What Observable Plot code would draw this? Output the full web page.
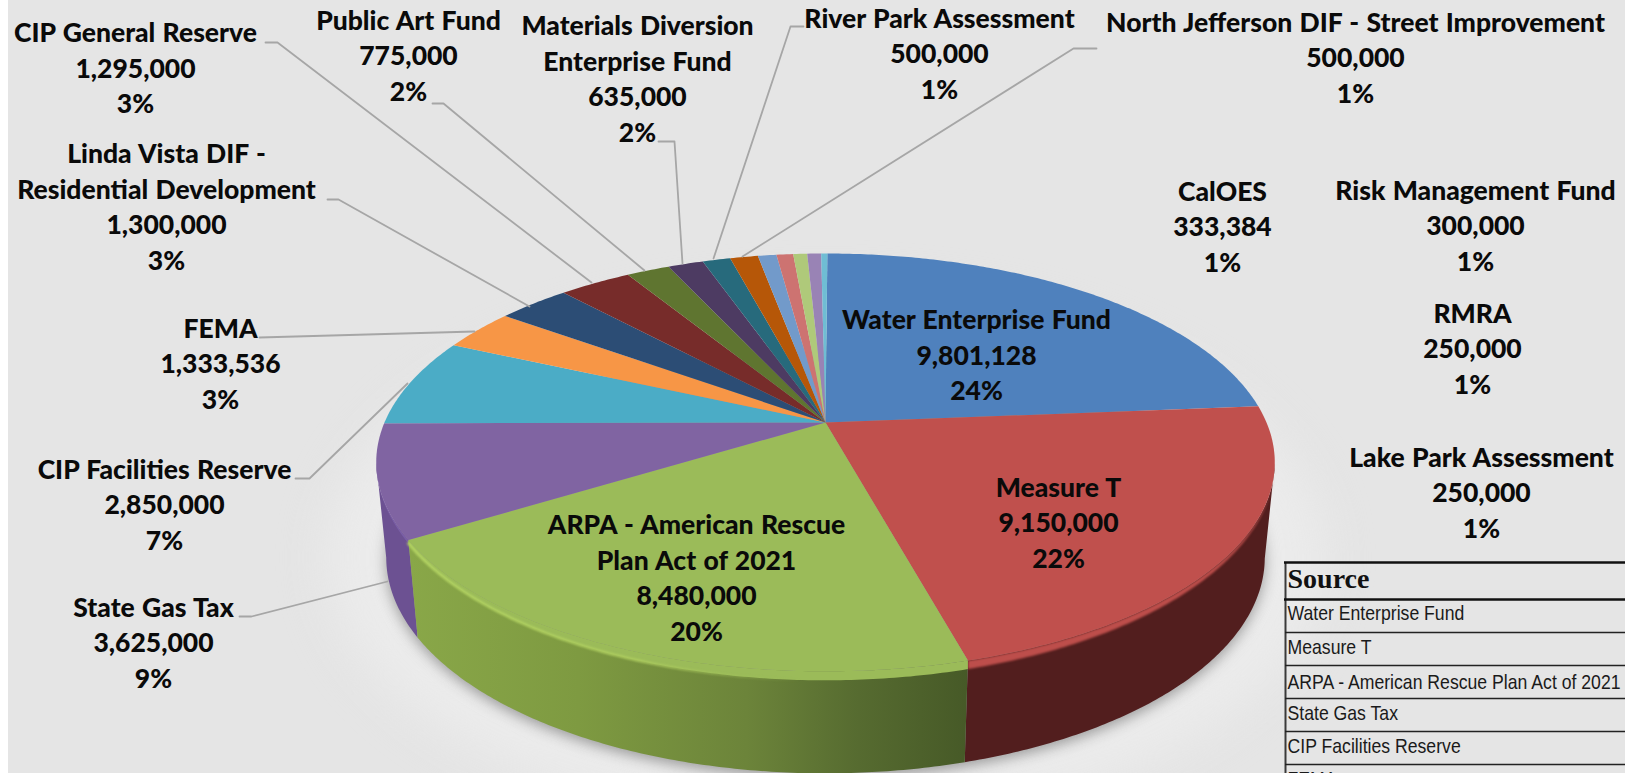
<!DOCTYPE html>
<html>
<head>
<meta charset="utf-8">
<script src="https://cdn.jsdelivr.net/npm/d3@7"></script>
<script src="https://cdn.jsdelivr.net/npm/@observablehq/plot@0.6"></script>
<style>
html,body{margin:0;padding:0;overflow:hidden;width:1625px;height:773px;background:linear-gradient(to right,#fff 8px,#e5e5e5 8px);}
svg{display:block}
.lbl text{word-spacing:1px}
</style>
</head>
<body>
<script>
// ---- data -------------------------------------------------------------
const sources = ["Water Enterprise Fund","Measure T","ARPA - American Rescue\nPlan Act of 2021","State Gas Tax","CIP Facilities Reserve","FEMA","Linda Vista DIF -\nResidential Development","CIP General Reserve","Public Art Fund","Materials Diversion\nEnterprise Fund","River Park Assessment","North Jefferson DIF - Street Improvement","CalOES","Risk Management Fund","RMRA","Lake Park Assessment","(unlabelled)"];
const amounts = [9801128,9150000,8480000,3625000,2850000,1333536,1300000,1295000,775000,635000,500000,500000,333384,300000,250000,250000,110000];
const percents = ["24%","22%","20%","9%","7%","3%","3%","3%","2%","2%","1%","1%","1%","1%","1%","1%",""];
const sliceColors = ["#4f81bd","#c0504d","#9bbb59","#8064a2","#4bacc6","#f79646","#2c4d75","#772c2a","#5f7530","#4d3b62","#276a7c","#b65708","#729aca","#cd7371","#afc97a","#9983b5","#6fbdd4"];
const tableHeader = "Source";
const tableRows = ["Water Enterprise Fund","Measure T","ARPA - American Rescue Plan Act of 2021","State Gas Tax","CIP Facilities Reserve","FEMA"];

// ---- layout (separate from data) -------------------------------------
const labelAt = [[976,353],[1058,520.5],[696,575.5],[153,640.5],[164,502.5],[220,361.5],[166,204.5],[135,66],[408,53.5],[637,76.5],[939,51.5],[1355,55.5],[1222,224.5],[1475,223.5],[1472,346.5],[1481,490.5],null];
const leaders = [
  [[239,616],[251,616],[387,581]],
  [[295,478],[309,478],[407,383]],
  [[259,337],[474,331]],
  [[327,199],[338,199],[529,306]],
  [[265,42],[277,42],[591,282]],
  [[432,103],[443,103],[644,270]],
  [[658,141],[674,141],[682,263]],
  [[803,26],[790,26],[713,258]],
  [[1096,48],[1073,48],[742,256]]
];
const W = 1625, H = 773;
const apex = {x:825, y:422}, k = 0.191, sx = 441, sz = 201.3, startAngle = 0.005;
const top3d = {cx:825, cy:462, a:449, b:209};
const bot3d = {cx:825, cy:557, a:439, b:216};
const bevel = 9;
const textWidthFactor = 0.84;
const tableTextY = [613,647,682,713,746,779];

// ---- geometry from the values -----------------------------------------
const total = d3.sum(amounts);
const project = th => {
  const X = Math.sin(th), Z = Math.cos(th), d = 1 + k * Z;
  return [apex.x + sx * X / d, apex.y - sz * Z / d];
};
const toBottom = ([x, y]) => {
  const c = (x - top3d.cx) / top3d.a, s = (y - top3d.cy) / top3d.b;
  return [bot3d.cx + bot3d.a * c, bot3d.cy + bot3d.b * s];
};
let acc = startAngle;
const slices = amounts.map((v, i) => {
  const a0 = acc, a1 = acc + v / total * 2 * Math.PI;
  acc = a1;
  const n = Math.max(2, Math.ceil((a1 - a0) / 0.01));
  const rim = d3.range(n + 1).map(j => project(a0 + (a1 - a0) * j / n));
  return {i, name: sources[i], color: sliceColors[i], rim};
});
const faces = slices.flatMap(s => [[apex.x, apex.y], ...s.rim].map(p => ({x:p[0], y:p[1], z:s.i, c:s.color})));
const frontRim = s => s.rim.filter(p => p[1] >= top3d.cy);
const sidePoly = i => {
  const r = frontRim(slices[i]);
  return [...r, ...r.slice().reverse().map(toBottom)].map(p => ({x:p[0], y:p[1]}));
};
// the rounded lip under the rim: a band that tapers to nothing at the pie's extremes
const lip = ([x, y]) => [x, y + bevel * (y - top3d.cy) / top3d.b];
const bevelPoly = i => {
  const r = frontRim(slices[i]);
  return [...r, ...r.slice().reverse().map(lip)].map(p => ({x:p[0], y:p[1]}));
};
const lipLine = i => frontRim(slices[i]).map(lip).map(p => ({x:p[0], y:p[1]}));
const outline = d3.range(0, 2 * Math.PI + 0.02, 0.02).map(t => ({x:bot3d.cx + bot3d.a * Math.cos(t), y:bot3d.cy + bot3d.b * Math.sin(t)}));
const halo = d3.range(0, 2 * Math.PI + 0.02, 0.02).map(t => ({x:bot3d.cx + (bot3d.a + 60) * Math.cos(t), y:bot3d.cy + (bot3d.b + 50) * Math.sin(t)}));

const labels = sources.map((name, i) => labelAt[i] && ({
  x: labelAt[i][0], y: labelAt[i][1],
  text: `${name}\n${d3.format(",")(amounts[i])}\n${percents[i]}`
})).filter(Boolean);
const leaderPts = leaders.flatMap((l, i) => l.map(p => ({x:p[0], y:p[1], z:i})));

// table layout
const tX = 1285, tTop = 562, tHead = 599, tRow = 33;
const tableLines = d3.range(1, tableRows.length).map(i => tHead + i * tRow);
const tableText = tableRows.map((t, i) => ({t, y: tableTextY[i]}));

const plot = Plot.plot({
  width: W, height: H, margin: 0,
  style: {background:"transparent"},
  x: {domain:[0, W], range:[0, W], axis:null},
  y: {domain:[0, H], range:[0, H], axis:null},
  color: {type:"identity"},
  marks: [
    Plot.line(halo, {x:"x", y:"y", fill:"#ebebeb", stroke:"none", imageFilter:"blur(22px)"}),
    Plot.line(outline, {x:"x", y:"y", fill:"#9a9a9a", stroke:"none", dy:4, imageFilter:"blur(7px)"}),
    Plot.line(sidePoly(3), {x:"x", y:"y", fill:"#6c5192", stroke:"none"}),
    Plot.line(sidePoly(1), {x:"x", y:"y", fill:"#521e1e", stroke:"none"}),
    Plot.line(sidePoly(2), {x:"x", y:"y", fill:"url(#greenSide)", stroke:"none"}),
    Plot.line(bevelPoly(3), {x:"x", y:"y", fill:"#7a5fa6", stroke:"none"}),
    Plot.line(bevelPoly(1), {x:"x", y:"y", fill:"#bd4e4b", stroke:"none", imageFilter:"blur(0.8px)"}),
    Plot.line(bevelPoly(2), {x:"x", y:"y", fill:"#9bbb59", stroke:"none"}),
    Plot.line(lipLine(2), {x:"x", y:"y", stroke:"url(#lipShine)", strokeWidth:2.5, imageFilter:"blur(1px)"}),
    Plot.line(faces, {x:"x", y:"y", z:"z", fill:"c", stroke:"none"}),
    Plot.line(leaderPts, {x:"x", y:"y", z:"z", stroke:"#a6a6a6", strokeWidth:1.8}),
    Plot.text(labels, {x:"x", y:"y", text:"text", fontFamily:"Lato", fontWeight:900, fontSize:26.5, lineHeight:1.34, fill:"#0a0a0a", textAnchor:"middle", lineAnchor:"middle", className:"lbl"}),
    Plot.ruleX([tX], {y1:tTop, y2:H, stroke:"#3a3a3a", strokeWidth:2}),
    Plot.ruleY([tTop, tHead], {x1:tX - 1, x2:W, stroke:"#111", strokeWidth:2.5}),
    Plot.ruleY(tableLines, {x1:tX, x2:W, stroke:"#222", strokeWidth:1.5}),
    Plot.text([tableHeader], {x:tX + 2, y:tTop + 17, text:d => d, fontFamily:"Liberation Serif", fontWeight:700, fontSize:28, textAnchor:"start", lineAnchor:"middle", fill:"#111"}),
    Plot.text(tableText, {x:tX + 2, y:"y", text:"t", fontFamily:"Liberation Sans", fontSize:21, textAnchor:"start", lineAnchor:"middle", fill:"#1a1a1a", className:"tbl"})
  ]
});
const defs = d3.select(plot).insert("defs", ":first-child");
const g = defs.append("linearGradient").attr("id","greenSide").attr("gradientUnits","userSpaceOnUse")
  .attr("x1",410).attr("x2",970).attr("y1",0).attr("y2",0);
[[0,"#89a748"],[0.3,"#7e9a41"],[0.6,"#6c843a"],[0.8,"#566b30"],[1,"#465927"]].forEach(([o,c]) => g.append("stop").attr("offset",o).attr("stop-color",c));
const s = defs.append("linearGradient").attr("id","lipShine").attr("gradientUnits","userSpaceOnUse")
  .attr("x1",410).attr("x2",800).attr("y1",0).attr("y2",0);
[[0,"#b6d764",1],[0.6,"#aecd5f",1],[1,"#9bbb59",0]].forEach(([o,c,a]) => s.append("stop").attr("offset",o).attr("stop-color",c).attr("stop-opacity",a));
document.body.appendChild(plot);
// narrow the table text (the source uses a condensed sans)
d3.select(plot).selectAll(".tbl text").each(function(){
  this.setAttribute("textLength", this.getComputedTextLength() * textWidthFactor);
  this.setAttribute("lengthAdjust", "spacingAndGlyphs");
});
</script>
</body>
</html>
